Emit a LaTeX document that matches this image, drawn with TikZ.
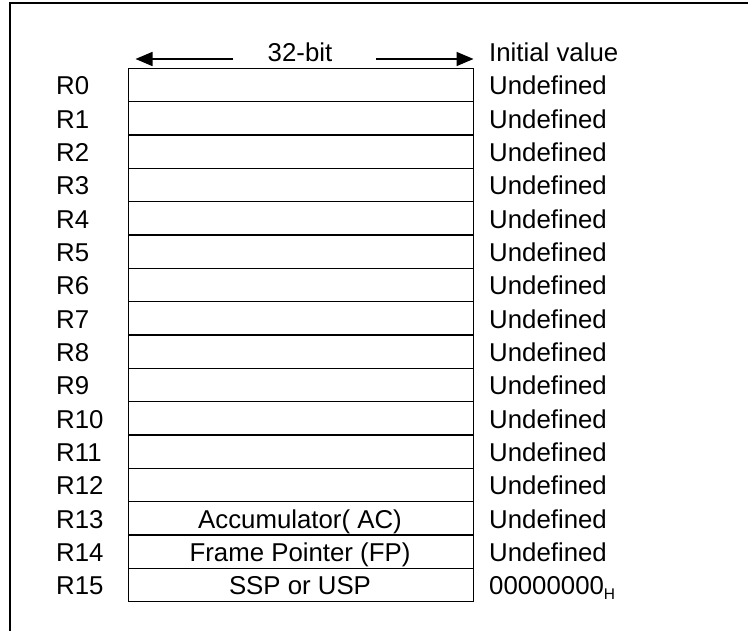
\documentclass[tikz,border=0pt]{standalone}
\usepackage{fontspec}
\setmainfont{Liberation Sans}
\usetikzlibrary{arrows.meta}
\begin{document}
\begin{tikzpicture}[x=1pt,y=-1pt,
  lbl/.style={inner sep=0pt,anchor=base west,font=\fontsize{25.8}{30}\selectfont},
  ctr/.style={inner sep=0pt,anchor=base,font=\fontsize{25.8}{30}\selectfont},
  regbox/.style={draw,line width=1.4pt,minimum width=345pt,minimum height=33.33pt,inner sep=0pt,anchor=north west},
  frameline/.style={line width=1.8pt},
  dimarrow/.style={line width=1.7pt,-{Triangle[length=17pt,width=14pt]}}]
\useasboundingbox (0,0) rectangle (748,631);
\draw[frameline] (10,640) -- (10,3) -- (760,3);
% registers
\foreach \i in {0,...,15}{
  \node[regbox] (b\i) at (127.5,{67.7+33.33*\i}) {};
  \node[lbl] (r\i) at (56,{95+33.33*\i}) {R\i};
}
\foreach \i in {0,...,14}{
  \node[lbl] (u\i) at (489,{95+33.33*\i}) {Undefined};
}
\node[lbl] (u15) at (489,{95+33.33*15}) {00000000\raisebox{-5pt}{\fontsize{15.5}{17}\selectfont H}};
\node[ctr] (t13) at (300,{95+33.33*13}) {Accumulator( AC)};
\node[ctr] (t14) at (300,{95+33.33*14}) {Frame Pointer (FP)};
\node[ctr] (t15) at (300,{95+33.33*15}) {SSP or USP};
% header
\node[ctr] (bits) at (300,62) {32-bit};
\node[lbl] (init) at (489,62) {Initial value};
\coordinate (al) at (233,59);
\coordinate (ar) at (376,59);
\coordinate (tl) at (135.5,59);
\coordinate (tr) at (473.5,59);
\draw[dimarrow] (al) -- (tl);
\draw[dimarrow] (ar) -- (tr);
\end{tikzpicture}
\end{document}
